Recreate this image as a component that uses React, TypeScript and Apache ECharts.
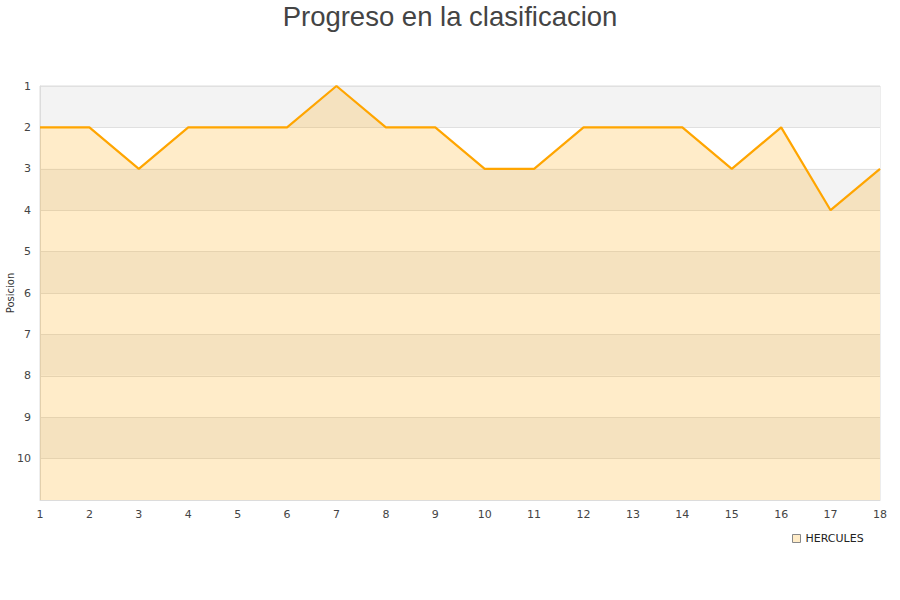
import React, { useEffect, useRef } from "react";
import * as echarts from "echarts";

const jornadas = ["1","2","3","4","5","6","7","8","9","10","11","12","13","14","15","16","17","18"];
const posiciones = [2, 2, 3, 2, 2, 2, 1, 2, 2, 3, 3, 2, 2, 2, 3, 2, 4, 3];
const equipo = "HERCULES";
const titulo = "Progreso en la clasificacion";
const ejeY = "Posicion";

export default function App() {
  const ref = useRef<HTMLDivElement>(null);
  useEffect(() => {
    if (!ref.current) return;
    const chart = echarts.init(ref.current, undefined, { renderer: "svg" });
    chart.setOption({
      animation: false,
      backgroundColor: "#ffffff",
      title: {
        text: titulo,
        left: "center",
        top: -3,
        textStyle: { fontFamily: "Liberation Sans", fontSize: 27.5, fontWeight: "normal", color: "#444444" },
      },
      legend: {
        left: 787,
        top: 528,
        icon: "rect",
        itemWidth: 8,
        itemHeight: 8,
        itemGap: 5,
        itemStyle: { color: "#ffecc8", borderColor: "#888888", borderWidth: 1 },
        textStyle: { fontFamily: "DejaVu Sans", fontSize: 11, color: "#222222" },
        data: [equipo],
      },
      grid: {
        left: 40,
        right: 20,
        top: 86,
        bottom: 100,
        show: true,
        borderColor: "#dcdcdc",
        borderWidth: 1,
        containLabel: false,
        outerBoundsMode: "none",
      },
      xAxis: {
        type: "category",
        data: jornadas,
        boundaryGap: false,
        axisLine: { show: true, lineStyle: { color: "#dcdcdc" } },
        axisTick: { show: false },
        splitLine: { show: false },
        axisLabel: { fontFamily: "DejaVu Sans", fontSize: 11, color: "#444444", margin: 9, interval: 0 },
      },
      yAxis: {
        type: "value",
        inverse: true,
        min: 1,
        max: 11,
        interval: 1,
        name: ejeY,
        nameLocation: "middle",
        nameRotate: 90,
        nameGap: 25,
        nameMoveOverlap: false,
        nameTextStyle: { fontFamily: "DejaVu Sans", fontSize: 10, color: "#333333" },
        axisLine: { show: true, lineStyle: { color: "#dcdcdc" } },
        axisTick: { show: false },
        axisLabel: {
          fontFamily: "DejaVu Sans",
          fontSize: 11,
          color: "#444444",
          margin: 9,
          formatter: (v: number) => (v > 10 ? "" : String(v)),
        },
        splitLine: { show: true, lineStyle: { color: "#e0e0e0", width: 1 } },
        splitArea: { show: true, areaStyle: { color: ["#f3f3f3", "#ffffff"] } },
      },
      series: [
        {
          name: equipo,
          type: "line",
          data: posiciones,
          showSymbol: false,
          symbol: "none",
          lineStyle: { color: "#ffa500", width: 2.2 },
          itemStyle: { color: "#ffa500" },
          areaStyle: { color: "rgba(255,165,0,0.21)", opacity: 1, origin: "end" },
        },
      ],
    });
    return () => chart.dispose();
  }, []);
  return <div ref={ref} style={{ position: "absolute", left: 0, top: 0, width: 900, height: 600 }} />;
}
